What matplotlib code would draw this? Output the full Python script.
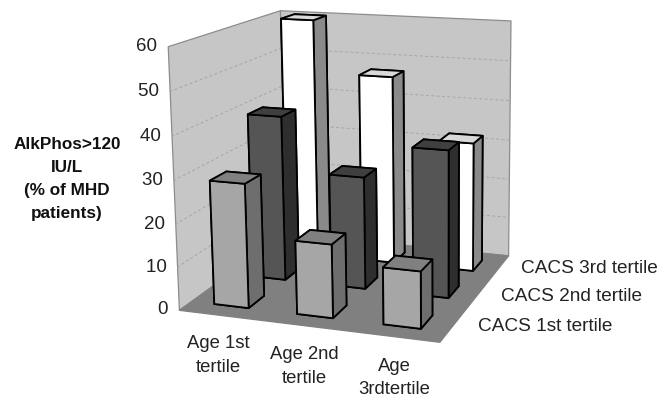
import matplotlib
matplotlib.use("Agg")
import matplotlib.pyplot as plt
import numpy as np
from mpl_toolkits.mplot3d.art3d import Line3DCollection, Poly3DCollection

plt.rcParams["font.family"] = ["Liberation Sans", "DejaVu Sans"]

# data
AGE_LABELS = ["Age 1st\ntertile", "Age 2nd\ntertile", "Age\n3rdtertile"]
CACS_LABELS = ["CACS 1st tertile", "CACS 2nd tertile", "CACS 3rd tertile"]
CACS_1ST = [29, 17, 13]
CACS_2ND = [40, 27, 35]
CACS_3RD = [60, 47, 32]
Z_TICKS = [0, 10, 20, 30, 40, 50, 60]
Z_TOP = Z_TICKS[-1]

# face colours: bottom, top, front, back, left, right
FACE_COLORS = [
    ["#a6a6a6", "#808080", "#a6a6a6", "#a6a6a6", "#a6a6a6", "#6e6e6e"],
    ["#555555", "#3f3f3f", "#555555", "#555555", "#555555", "#2e2e2e"],
    ["#ffffff", "#d9d9d9", "#ffffff", "#ffffff", "#ffffff", "#8a8a8a"],
]
WALL = "#c6c6c6"
FLOOR = "#808080"
TEXT = "#222222"

# camera calibration: box corners -> picture pixels
CORNERS_3D = [(0, 0, 0), (3, 0, 0), (3, 3, 0), (0, 3, 0),
              (0, 0, Z_TOP), (0, 3, Z_TOP), (3, 3, Z_TOP)]
CORNERS_PX = [(179, 307), (440, 344), (508, 253), (285, 236),
              (167, 47), (281, 9), (510, 21)]


def solve_camera():
    rows, rhs = [], []
    for (x, y, z), (u, v) in zip(CORNERS_3D, CORNERS_PX):
        rows.append([x, y, z, 1, 0, 0, 0, 0, -u * x, -u * y, -u * z])
        rows.append([0, 0, 0, 0, x, y, z, 1, -v * x, -v * y, -v * z])
        rhs += [u, v]
    return np.linalg.lstsq(np.array(rows, float), np.array(rhs, float), rcond=None)[0]


H = solve_camera()

fig = plt.figure(figsize=(6.7, 4.0), dpi=100)
# Axes3D forces a square box, so make it a square covering the whole figure
ax = fig.add_axes([0, -0.3375, 1, 1.675], projection="3d", computed_zorder=False)
ax.set_axis_off()


def get_proj():
    # pixels -> the 2d view coordinates of the axes
    inv = ax.transData.inverted().get_matrix()
    px_to_view = inv @ np.array([[1, 0, 0], [0, -1, 400], [0, 0, 1]], float)
    cam = np.array([H[:4], H[4:8], [H[8], H[9], H[10], 1.0]])
    top = px_to_view @ cam
    return np.array([top[0], top[1], [-0.3, 1.0, -0.05, 0.0], top[2]])


ax.get_proj = get_proj


def quad(*pts):
    return Poly3DCollection([pts], closed=True)


left = quad((0, 0, 0), (0, 3, 0), (0, 3, Z_TOP), (0, 0, Z_TOP))
back = quad((0, 3, 0), (3, 3, 0), (3, 3, Z_TOP), (0, 3, Z_TOP))
floor = quad((0, 0, 0), (3, 0, 0), (3, 3, 0), (0, 3, 0))
for poly, color, edge in [(left, WALL, "#8c8c8c"), (back, WALL, "#8c8c8c"), (floor, FLOOR, FLOOR)]:
    poly.set_facecolor(color)
    poly.set_edgecolor(edge)
    poly.set_linewidth(0.9)
    poly.set_zorder(1)
    ax.add_collection3d(poly)

# dashed gridlines along both walls
segs = []
for z in Z_TICKS[1:-1]:
    segs.append([(0, 0, z), (0, 3, z)])
    segs.append([(0, 3, z), (3, 3, z)])
grid = Line3DCollection(segs, colors="#a6a6a6", linewidths=0.7, linestyles=[(0, (3, 2.5))])
grid.set_zorder(2)
ax.add_collection3d(grid)

for z in Z_TICKS:
    ax.text(0, 0, z, f"{z}  ", ha="right", va="center", fontsize=13.5, color=TEXT, zorder=20)

# back row first, so the nearer bars paint over it
WIDTH, DEPTH = 0.42, 0.42
rows = [CACS_1ST, CACS_2ND, CACS_3RD]
zo = 3
for j in [2, 1, 0]:
    for i in range(3):
        bars = ax.bar3d(i + 0.29 + 0.015 * j, j + 0.29, 0, WIDTH, DEPTH, rows[j][i],
                        color=FACE_COLORS[j], shade=False,
                        edgecolor="black", linewidth=1.3)
        bars.set_zorder(zo)
        zo += 1

for i, label in enumerate(AGE_LABELS):
    ax.text(i + 0.58, -0.21, -3, label, ha="center", va="top", fontsize=13.3,
            color=TEXT, linespacing=1.5, zorder=20)
for j, label in enumerate(CACS_LABELS):
    ax.text(3.28, j + 0.5, 0.3, label, ha="left", va="center", fontsize=13.7,
            color=TEXT, zorder=20)

fig.text(67 / 670, 1 - 179 / 400, "AlkPhos>120\nIU/L\n(% of MHD\npatients)", ha="center", va="center",
         fontsize=12.3, fontweight="bold", color="#111111", linespacing=1.65)

fig.savefig("out.png", dpi=100)
